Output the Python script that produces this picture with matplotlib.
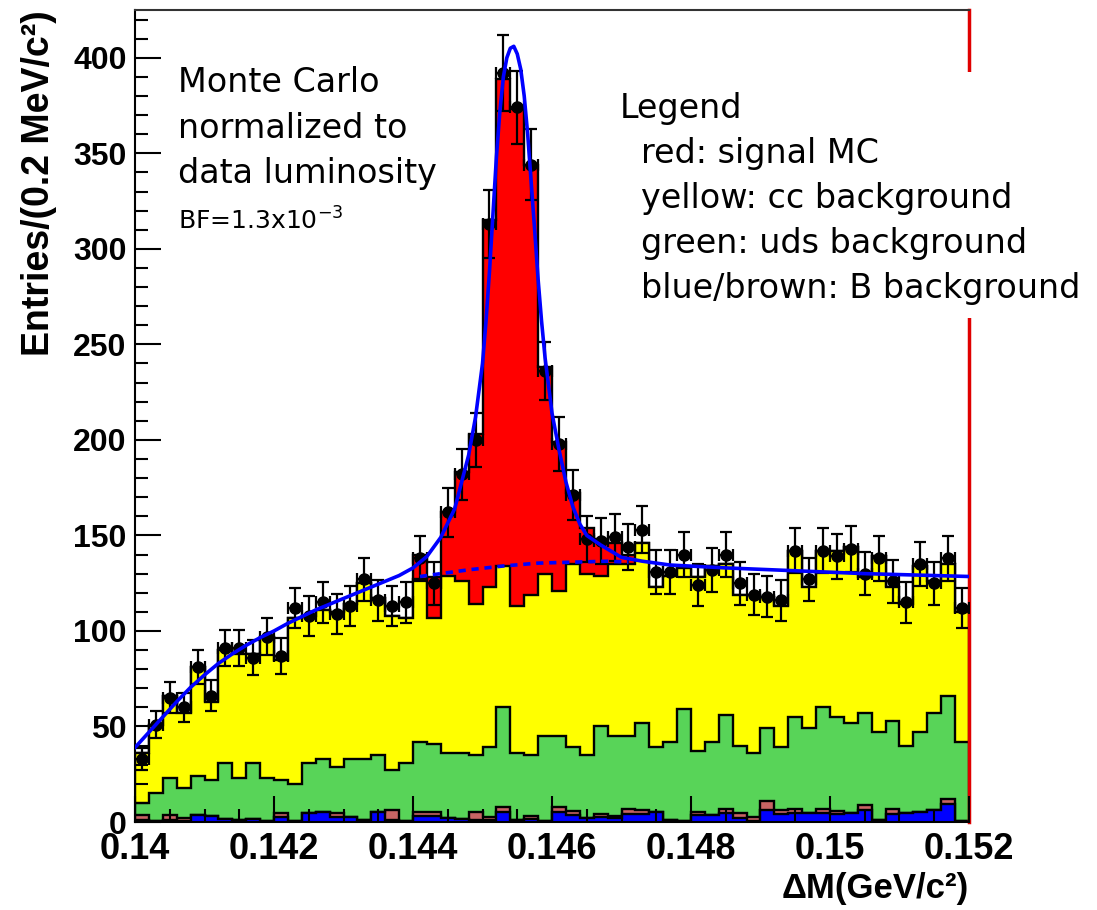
import matplotlib.pyplot as plt
import numpy as np
from matplotlib.patches import Rectangle
from matplotlib.ticker import MultipleLocator, FuncFormatter

# 60 bins of 0.2 MeV between 0.140 and 0.152 GeV
edges = np.linspace(0.140, 0.152, 61)

data = [33, 51, 65, 60, 81, 66, 91, 91, 86, 97,
        87, 112, 108, 115, 109, 113, 127, 116, 113, 115,
        138, 125, 162, 182, 200, 313, 392, 374, 344, 236,
        198, 171, 148, 147, 149, 144, 153, 131, 131, 140,
        124, 132, 140, 125, 119, 118, 116, 142, 127, 142,
        139, 143, 130, 138, 126, 115, 135, 125, 138, 112]

# MC components, bottom of the stack first
b_blue = [1, 0.5, 1, 0.5, 3.7, 3, 1.7, 1, 1.7, 0.5,
          2.8, 0.5, 4.5, 5, 2.8, 2.8, 1, 5.4, 1, 0.5,
          3, 3, 2, 1.5, 1, 1, 5.4, 1, 1.5, 0.5,
          5, 3.7, 2, 2.8, 2, 4.2, 4.2, 5, 1, 0.5,
          3.7, 3.7, 4.9, 1.9, 0.7, 6.3, 4.2, 4.9, 4.5, 4.9,
          4.2, 4.5, 6.3, 1, 4.2, 4.5, 5.4, 6.3, 9.4, 0.5]
b_brown = [2.5, 0, 2.7, 1.5, 0, 0, 0, 0, 0, 0,
           1.7, 0, 0, 0, 2, 0, 0, 0, 5.3, 0,
           2.4, 2, 0, 0, 4.4, 1.8, 2.3, 0, 1.8, 0,
           2.7, 2.3, 0, 1.4, 1.3, 2.4, 2.1, 0, 0, 0,
           1.7, 0, 1.7, 2.6, 2.1, 4.7, 2.1, 1.7, 0, 1.7,
           1.6, 0, 2.6, 0, 2.4, 0, 0, 0, 2.8, 0]
uds = [6.5, 14.5, 19.3, 16, 20.3, 19, 29.3, 22, 29.3, 22.5,
       17.5, 19.5, 26.5, 28, 24.2, 30.2, 32, 29.6, 20.7, 30.5,
       36.6, 36, 34, 34.5, 29.6, 36.2, 52.3, 35, 31.7, 44.5,
       37.3, 33, 33, 45.8, 41.7, 38.4, 45.7, 34, 41, 58.5,
       31.6, 38.3, 49.4, 35.5, 33.2, 38, 32.7, 48.4, 44.5, 53.4,
       49.2, 47.5, 48.1, 46, 46.4, 35.5, 41.6, 50.7, 53.8, 41.5]
cc = [26, 36, 43, 39, 57, 41, 59, 65, 57, 74,
      63, 87, 77, 78, 81, 81, 92, 82, 81, 76,
      85, 66, 93, 90, 79, 84, 74, 77, 84, 85,
      76, 96, 95, 79, 90, 90, 94, 84, 87, 74,
      91, 92, 79, 79, 83, 69, 74, 87, 74, 82,
      87, 92, 71, 92, 70, 74, 87, 69, 69, 68]
signal = ([0] * 20 +
          [13, 21, 33, 57, 89, 192, 255, 260, 225, 108,
           78, 37, 24, 19, 11, 5, 0] +
          [0] * 23)

# fitted total and background curves
fit_x = [0.1400, 0.1402, 0.1404, 0.1406, 0.1408, 0.1410, 0.1412, 0.1414,
         0.1416, 0.1418, 0.1420, 0.1422, 0.1424, 0.1426, 0.1428, 0.1430,
         0.1432, 0.1434, 0.1436, 0.1438, 0.1440, 0.1442, 0.1444, 0.1446,
         0.1448, 0.1449, 0.1450, 0.14505, 0.1451, 0.14515, 0.1452, 0.14525,
         0.1453, 0.14535, 0.1454, 0.14545, 0.1455, 0.14555, 0.1456, 0.14565,
         0.1457, 0.14575, 0.1458, 0.14585, 0.1459, 0.1460, 0.1461, 0.1462,
         0.1463, 0.1464, 0.1465, 0.1467, 0.1470, 0.1473, 0.1477, 0.1485,
         0.1495, 0.1505, 0.1515, 0.1520]
fit_y = [39, 47, 55, 63, 70.5, 77, 83, 88,
         92.5, 96.5, 100, 104, 107.5, 111, 114, 117,
         120, 123, 126, 129, 133, 139, 149, 164,
         192, 212, 240, 262, 288, 318, 348, 372,
         390, 400, 405, 406, 402, 394, 380, 360,
         335, 310, 284, 262, 243, 214, 195, 178,
         165, 156, 150, 145, 138.5, 136.5, 134.5, 133,
         131.5, 130, 129, 128.5]
bkg_x = [0.1441, 0.1444, 0.1448, 0.1453, 0.1458, 0.1463, 0.1468, 0.1471]
bkg_y = [128.5, 130, 132, 134, 135.5, 136, 136.5, 136]

stack = [b_blue, b_brown, uds, cc, signal]
colors = ["#0000ff", "#c86464", "#58d458", "#ffff00", "#ff0000"]
levels = np.cumsum(np.array(stack, dtype=float), axis=0)

fig = plt.figure(figsize=(10.97, 9.10), dpi=100)
ax = fig.add_axes([0.1231, 0.0967, 0.7602, 0.8923])

# ROOT-style stack: each cumulative histogram drawn from zero, top one first
for lev, col in zip(levels[::-1], colors[::-1]):
    ax.stairs(lev, edges, fill=True, color=col, linewidth=0)
    ax.stairs(lev, edges, color="black", linewidth=1.7)

centers = 0.5 * (edges[:-1] + edges[1:])
data = np.array(data, dtype=float)
ax.errorbar(centers, data, yerr=np.sqrt(data), xerr=0.0001, fmt="o",
            color="black", markersize=8, elinewidth=1.6, capsize=4,
            capthick=1.6, zorder=3)

ax.plot(bkg_x, bkg_y, color="#0000ff", linewidth=2.6, linestyle=(0, (2, 1.6)),
        zorder=4)
ax.plot(fit_x, fit_y, color="#0000ff", linewidth=2.6, zorder=5)

ax.set_xlim(0.140, 0.152)
ax.set_ylim(0, 425)
ax.set_axisbelow(False)

ax.xaxis.set_major_locator(MultipleLocator(0.002))
ax.xaxis.set_minor_locator(MultipleLocator(0.0005))
ax.yaxis.set_major_locator(MultipleLocator(50))
ax.yaxis.set_minor_locator(MultipleLocator(10))
ax.xaxis.set_major_formatter(FuncFormatter(lambda v, p: "%g" % round(v, 4)))

ax.tick_params(which="both", direction="in", top=False, right=False,
               width=1.5)
ax.tick_params(which="major", length=19)
ax.tick_params(which="minor", length=9.5)
ax.tick_params(axis="x", pad=7)
ax.tick_params(axis="y", pad=6)
for lab in ax.get_xticklabels():
    lab.set_fontfamily("Liberation Sans")
    lab.set_fontweight("bold")
    lab.set_fontsize(26)
for lab in ax.get_yticklabels():
    lab.set_fontfamily("Liberation Sans")
    lab.set_fontweight("bold")
    lab.set_fontsize(23)

for side in ["left", "bottom", "top"]:
    ax.spines[side].set_linewidth(1.5)
ax.spines["top"].set_color("#333333")
ax.spines["right"].set_color("#e00000")
ax.spines["right"].set_linewidth(2.5)

ax.set_xlabel("ΔM(GeV/c²)", loc="right", fontsize=25, fontweight="bold",
              family="Liberation Sans", labelpad=4)
ax.set_ylabel("Entries/(0.2 MeV/c²)", loc="top", fontsize=27,
              fontweight="bold", family="Liberation Sans")
ax.yaxis.set_label_coords(-0.0935, 1.0)

W, H = 1097.0, 910.0
txt = dict(family="DejaVu Sans", fontsize=24, va="baseline", ha="left")
fig.text(178 / W, 1 - 92 / H, "Monte Carlo", **txt)
fig.text(178 / W, 1 - 138 / H, "normalized to", **txt)
fig.text(178 / W, 1 - 183 / H, "data luminosity", **txt)
fig.text(178 / W, 1 - 230 / H, "BF=1.3x10$^{-3}$", family="DejaVu Sans",
         fontsize=18, va="baseline", ha="left")

# white panel behind the legend text (it hides part of the frame)
fig.add_artist(Rectangle((605 / W, 1 - 318 / H), (W - 605) / W, 246 / H,
                         transform=fig.transFigure, facecolor="white",
                         edgecolor="none", zorder=1))
legend_lines = [
    (620, 118, "Legend"),
    (641, 163, "red: signal MC"),
    (641, 208, "yellow: cc background"),
    (641, 253, "green: uds background"),
    (641, 298, "blue/brown: B background"),
]
for px, py, s in legend_lines:
    fig.text(px / W, 1 - py / H, s, zorder=2, **txt)

fig.savefig("out.png", dpi=100)
